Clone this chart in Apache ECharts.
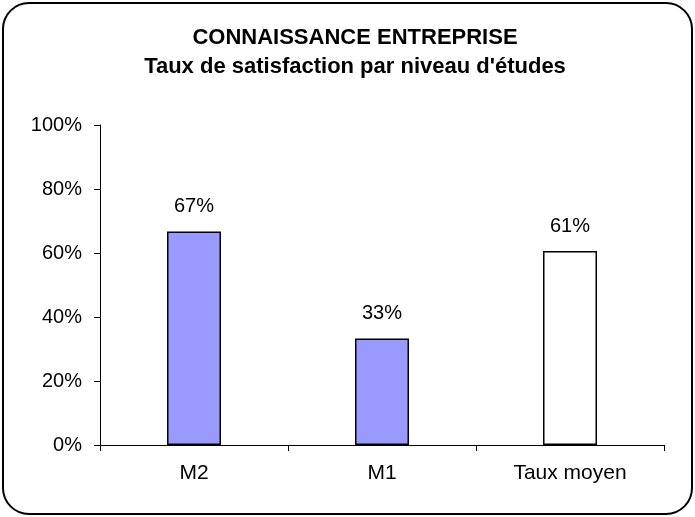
<!DOCTYPE html>
<html>
<head>
    <meta charset="utf-8" />
    <title>ECharts</title>
    <script src="https://cdn.jsdelivr.net/npm/echarts@6/dist/echarts.min.js"></script>
    <style>
        html, body { margin: 0; padding: 0; background: #fff; }
    </style>
</head>
<body>
    <div id="main" style="width: 695px;height:517px;"></div>
    <script type="text/javascript">
        // données
        var categories = ['M2', 'M1', 'Taux moyen'];
        var values = [66.7, 33.3, 60.6];
        var barColors = ['#9999FF', '#9999FF', '#FFFFFF'];
        var yTicks = [0, 20, 40, 60, 80, 100];

        var font = '"Liberation Sans", Arial, sans-serif';
        var myChart = echarts.init(document.getElementById('main'));

        var option = {
            animation: false,
            backgroundColor: '#fff',
            title: {
                text: 'CONNAISSANCE ENTREPRISE\nTaux de satisfaction par niveau d\'études',
                left: 350,
                top: 18,
                textAlign: 'center',
                textStyle: {
                    fontFamily: font,
                    fontSize: 22,
                    fontWeight: 'bold',
                    color: '#000',
                    lineHeight: 29
                }
            },
            graphic: [{
                type: 'rect',
                shape: { x: 3, y: 3, width: 689, height: 511, r: 26 },
                style: { fill: 'none', stroke: '#000', lineWidth: 2 },
                z: 100
            }],
            grid: { left: 100, top: 125, width: 564, height: 320 },
            xAxis: {
                type: 'category',
                data: categories,
                axisLine: { lineStyle: { color: '#000', width: 1 } },
                axisTick: { show: true, length: 6, lineStyle: { color: '#000' } },
                axisLabel: { fontFamily: font, fontSize: 21, color: '#000', margin: 18 }
            },
            yAxis: {
                type: 'value',
                min: yTicks[0],
                max: yTicks[yTicks.length - 1],
                interval: 20,
                splitLine: { show: false },
                axisLine: { show: true, lineStyle: { color: '#000', width: 1 } },
                axisTick: { show: true, length: 6, lineStyle: { color: '#000' } },
                axisLabel: {
                    fontFamily: font, fontSize: 20, color: '#000', margin: 18,
                    formatter: function (v) { return v + '%'; }
                }
            },
            series: [{
                type: 'bar',
                barWidth: 54,
                data: values.map(function (v, i) {
                    return { value: v, itemStyle: { color: barColors[i] } };
                }),
                itemStyle: { borderColor: '#000', borderWidth: 1.5 },
                label: {
                    show: true,
                    position: 'top',
                    distance: 15,
                    fontFamily: font,
                    fontSize: 20,
                    color: '#000',
                    formatter: function (p) { return Math.round(p.value) + '%'; }
                }
            }]
        };

        myChart.setOption(option);
    </script>
</body>
</html>
